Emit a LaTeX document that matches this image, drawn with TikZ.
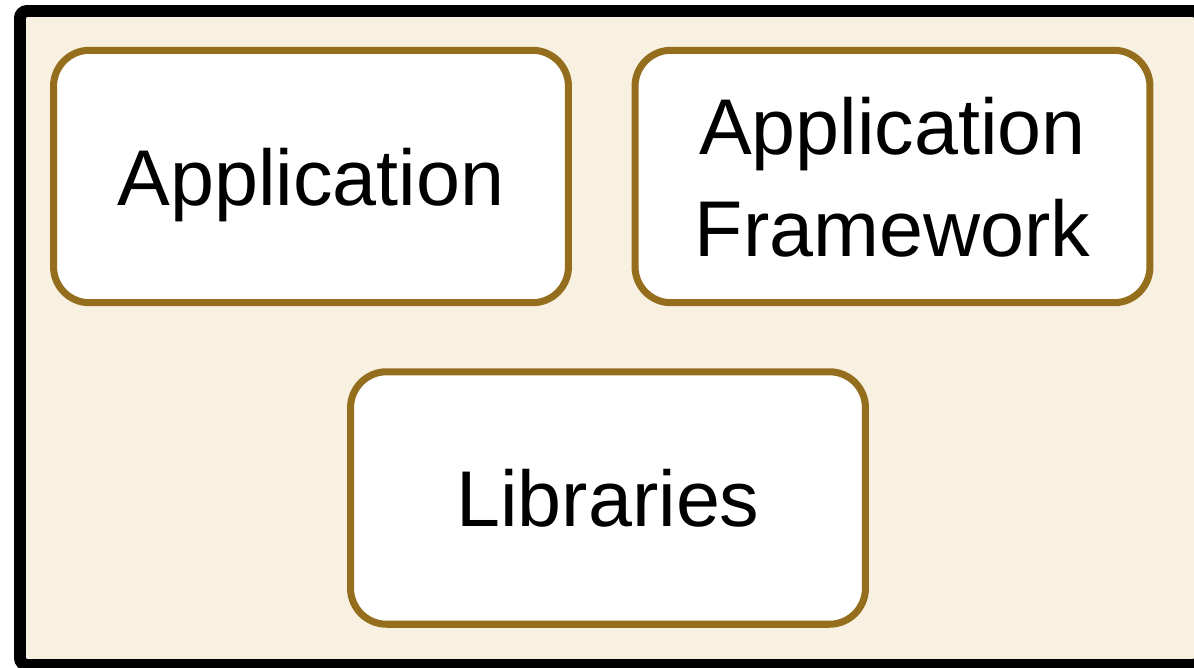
\documentclass[tikz,border=0pt]{standalone}
\usepackage{fontspec}
\setmainfont{Liberation Sans}
\definecolor{frameBeige}{RGB}{248,240,224}
\definecolor{boxBrown}{RGB}{148,110,28}
\begin{document}
\begin{tikzpicture}[x=0.02cm, y=-0.02cm,
    layerBox/.style={draw=boxBrown, fill=white, line width=4pt, rounded corners=0.72cm,
        minimum width=10.3cm, minimum height=5.05cm, align=center, text depth=0pt,
        font=\fontsize{45}{58}\selectfont}]

    \useasboundingbox (0, 0) rectangle (1194, 667);

    % box params
    \def\boxRow{176.5};
    \def\lowRow{498};

    % draw outer frame
    \draw[line width=6.8pt, fill=frameBeige, rounded corners=4pt] (20, 11) rectangle (1200, 665);

    % draw top boxes
    \node[layerBox] (app) at (311, \boxRow) {Application};
    \node[layerBox] (framework) at (892.5, \boxRow) {Application\\Framework};

    % draw libraries
    \node[layerBox] (libs) at (608, \lowRow) {Libraries};

\end{tikzpicture}
\end{document}
